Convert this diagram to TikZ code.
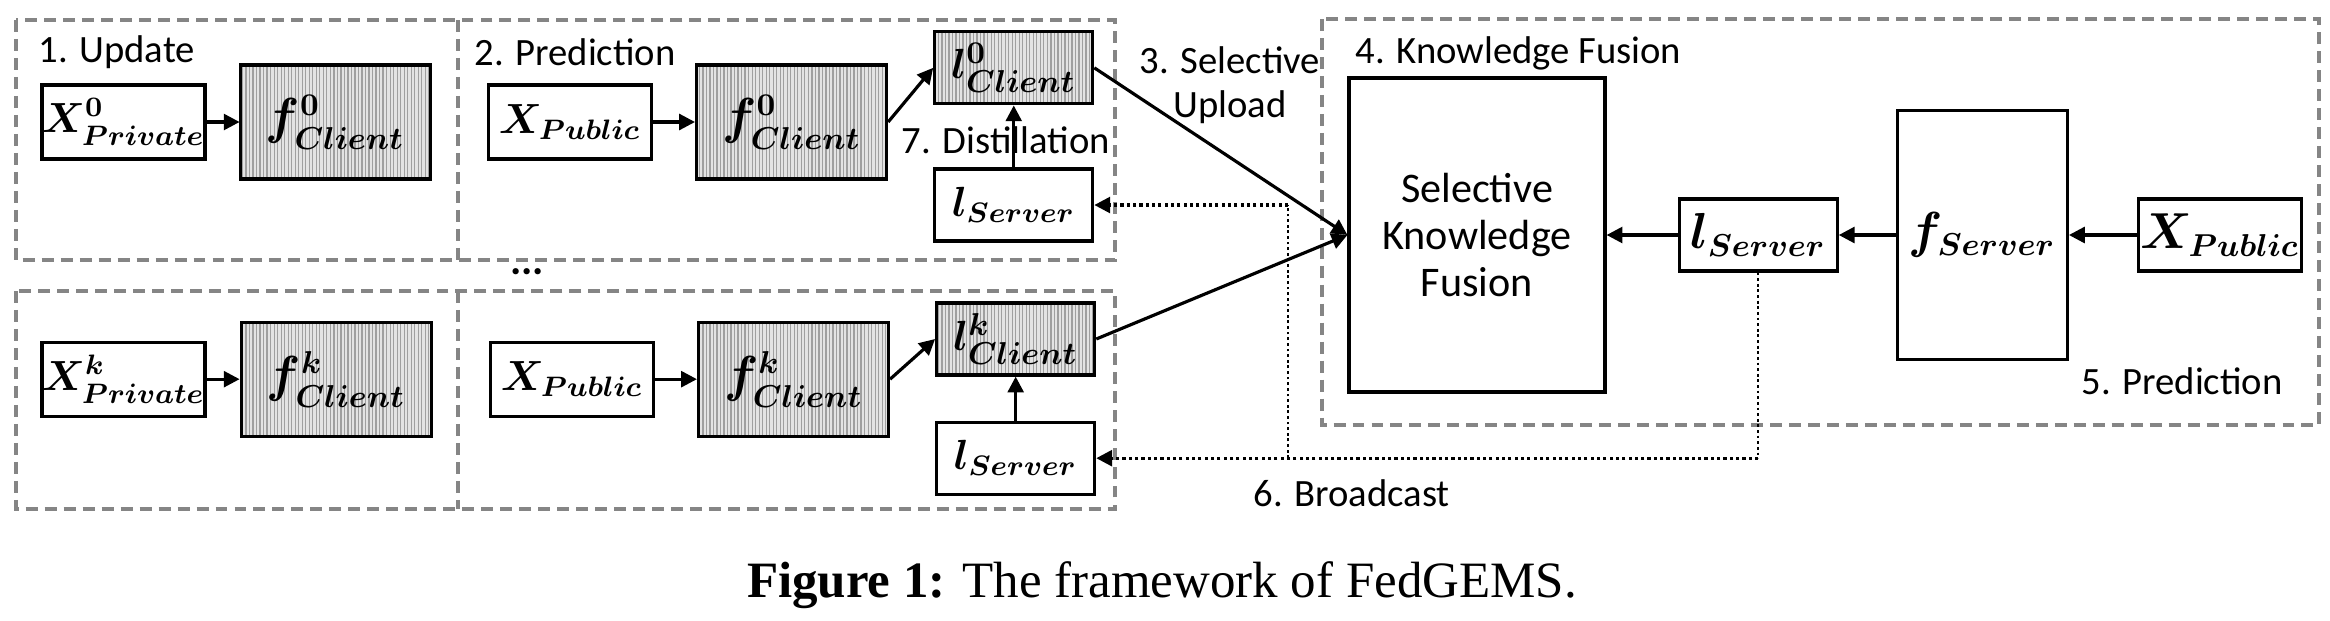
\documentclass[tikz,border=0pt]{standalone}
\usepackage{amsmath}
\usepackage[no-math]{fontspec}
\setmainfont{Carlito}
\newfontfamily\capfont{Liberation Serif}
\usetikzlibrary{positioning,arrows.meta,patterns.meta}

\begin{document}
\begin{tikzpicture}[>={Triangle[length=4.5pt,width=4.5pt]},line width=0.9pt,
  databox/.style = {draw, rectangle, minimum width=1.63cm, minimum height=0.74cm, inner sep=0pt, font=\boldmath\fontsize{11.5}{14}\selectfont},
  modelbox/.style = {databox, minimum width=1.9cm, minimum height=1.14cm, font=\boldmath\fontsize{13.5}{16}\selectfont, preaction={fill=gray!22}, pattern={Lines[angle=90,distance=1pt,line width=0.35pt]}, pattern color=gray!75},
  logitbox/.style = {modelbox, minimum width=1.58cm, minimum height=0.72cm, font=\boldmath\fontsize{12.5}{15}\selectfont},
  serverbox/.style = {databox, font=\boldmath\fontsize{13.5}{16}\selectfont},
  dashframe/.style = {draw=black!48, line width=1.4pt, dash pattern=on 3.4pt off 2pt},
  stage/.style = {inner sep=0pt, font=\fontsize{11}{12.5}\selectfont},
  bcast/.style = {->, line width=0.9pt, dash pattern=on 0.9pt off 0.9pt},
  branch/.style = {line width=0.5pt, dash pattern=on 0.8pt off 0.8pt}]
\useasboundingbox (0,0) rectangle (23.3,-6.2);

% client groups
\draw[dashframe] (0.16,-0.20) rectangle (11.15,-2.60);
\draw[dashframe] (4.58,-0.20) -- (4.58,-2.60);
\draw[dashframe] (0.16,-2.91) rectangle (11.15,-5.09);
\draw[dashframe] (4.58,-2.91) -- (4.58,-5.09);
% server group
\draw[dashframe] (13.22,-0.19) rectangle (23.19,-4.25);

% client 0
\node[databox] (1) at (1.235,-1.22) {$X^{0}_{Private}$};
\node[modelbox] (2) [right=0.33cm of 1] {$f^{0}_{Client}$};
\node[databox] (3) [right=0.56cm of 2] {$X_{Public}$};
\node[modelbox] (4) [right=0.42cm of 3] {$f^{0}_{Client}$};
\node[logitbox] (5) [above right=-0.42cm and 0.45cm of 4] {$l^{0}_{Client}$};
\node[databox, minimum width=1.58cm, minimum height=0.72cm] (6) [below=0.62cm of 5] {$l_{Server}$};

% client k
\node[databox] (7) [below=1.80cm of 1] {$X^{k}_{Private}$};
\node[modelbox] (8) [right=0.33cm of 7] {$f^{k}_{Client}$};
\node[databox] (9) [right=0.56cm of 8] {$X_{Public}$};
\node[modelbox] (10) [right=0.42cm of 9] {$f^{k}_{Client}$};
\node[logitbox] (11) [above right=-0.56cm and 0.45cm of 10] {$l^{k}_{Client}$};
\node[databox, minimum width=1.58cm, minimum height=0.72cm] (12) [below=0.44cm of 11] {$l_{Server}$};

% server
\node[databox, minimum width=2.56cm, minimum height=3.14cm, font=\fontsize{12}{13.4}\selectfont, align=center] (13) at (14.77,-2.35) {Selective\\Knowledge\\Fusion};
\node[serverbox, minimum width=1.58cm, minimum height=0.72cm] (14) [right=0.71cm of 13] {$l_{Server}$};
\node[serverbox, minimum width=1.7cm, minimum height=2.49cm] (15) [right=0.57cm of 14] {$f_{Server}$};
\node[serverbox, minimum height=0.72cm] (16) [right=0.68cm of 15] {$X_{Public}$};

% stage labels
\node[stage, anchor=base west] (s1) at (0.37,-0.62) {1. Update};
\node[stage, anchor=base west] (s2) at (4.73,-0.65) {2. Prediction};
\node[stage, anchor=base, align=center] (s3) at (12.3,-1.17) {3. Selective\\Upload};
\node[stage, anchor=base west] (s4) at (13.54,-0.63) {4. Knowledge Fusion};
\node[stage, anchor=base east] (s5) at (22.84,-3.94) {5. Prediction};
\node[stage, anchor=base west] (s6) at (12.52,-5.06) {6. Broadcast};
\node[stage, anchor=base] (s7) at (10.06,-1.53) {7. Distillation};
\node[font=\bfseries\large] (dots) at (5.27,-2.72) {...};

\draw[->] (1) -- (2);
\draw[->] (3) -- (4);
\draw[->] (4.east) -- (5.west);
\draw[->] (6) -- (5);
\draw[->] (7) -- (8);
\draw[->] (9) -- (10);
\draw[->] (10.east) -- (11.west);
\draw[->] (12) -- (11);
\draw[->] (5.east) -- (13.west);
\draw[->] (11.east) -- (13.west);
\draw[->] (16) -- (15);
\draw[->] (15) -- (14);
\draw[->] (14) -- (13);

% broadcast
\coordinate (split) at (12.88,0 |- 12.east);
\draw[branch] (14.south) -- (14.south |- 12.east);
\draw[bcast] (14.south |- 12.east) -- (12.east);
\draw[branch] (split) -- (split |- 6.east);
\draw[bcast] (split |- 6.east) -- (6.east);

% caption
\node[anchor=base, inner sep=0pt, font=\capfont\fontsize{14.5}{16}\selectfont] (cap) at (11.62,-5.97) {\textbf{Figure 1:} The framework of FedGEMS.};
\end{tikzpicture}
\end{document}
